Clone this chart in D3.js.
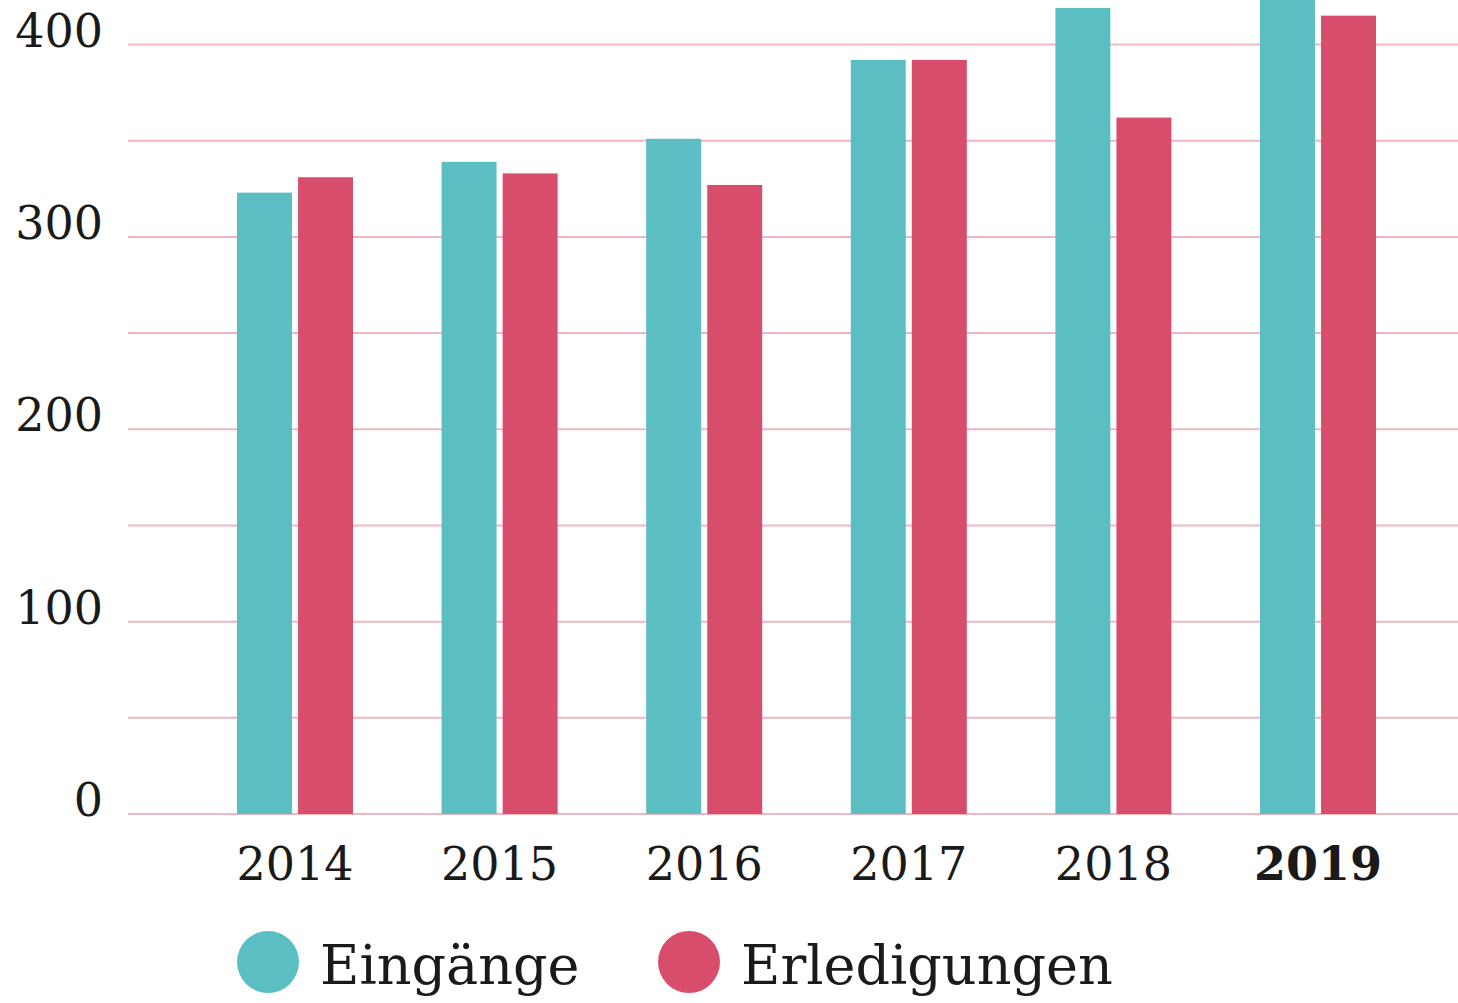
<!DOCTYPE html>
<html>
<head>
<meta charset="utf-8">
<script src="https://cdn.jsdelivr.net/npm/d3@7"></script>
<style>
body { margin: 0; background: #fff; }
svg { display: block; }
text { font-family: "DejaVu Serif", serif; fill: #1a1a1a; }
</style>
</head>
<body>
<script>
var years = ["2014", "2015", "2016", "2017", "2018", "2019"];
var series = ["Eingänge", "Erledigungen"];
var eingaenge = [323, 339, 351, 392, 419, 436];
var erledigungen = [331, 333, 327, 392, 362, 415];
var yTicks = [0, 100, 200, 300, 400];
var gridTicks = [0, 50, 100, 150, 200, 250, 300, 350, 400];
var colors = ["#5bbec2", "#d94d6c"];

var w = 1458;
var h = 1003;

var dataset = years.map(function(y, i){
	return {year: y, values: [eingaenge[i], erledigungen[i]]};
});

var svg = d3.select("body")
			.append("svg")
			.attr("width", w)
			.attr("height", h);

var xScale = d3.scaleBand()
				.domain(years)
				.range([192.7, 1420.3])
				.paddingInner(0.433)
				.paddingOuter(0.2165);

var xInner = d3.scaleBand()
				.domain(series)
				.range([0, xScale.bandwidth()])
				.paddingInner(0.1);

var yScale = d3.scaleLinear()
				.domain([0, 400])
				.range([814, 44.5]);

var colorScale = d3.scaleOrdinal()
				.domain(series)
				.range(colors);

// gridlines
svg.selectAll("line.grid")
	.data(gridTicks)
	.enter()
	.append("line")
	.attr("class", "grid")
	.attr("x1", 128)
	.attr("x2", w)
	.attr("y1", function(d){ return yScale(d); })
	.attr("y2", function(d){ return yScale(d); })
	.attr("stroke", "#f1b6bf")
	.attr("stroke-width", 2);

// y labels
svg.selectAll("text.ylab")
	.data(yTicks)
	.enter()
	.append("text")
	.attr("class", "ylab")
	.attr("x", 103)
	.attr("y", function(d){ return yScale(d) + 2; })
	.attr("text-anchor", "end")
	.attr("font-size", 46)
	.text(function(d){ return d; });

// bars
var groups = svg.selectAll("g.year")
	.data(dataset)
	.enter()
	.append("g")
	.attr("class", "year")
	.attr("transform", function(d){ return "translate(" + xScale(d.year) + ",0)"; });

groups.selectAll("rect")
	.data(function(d){
		return d.values.map(function(v, i){ return {key: series[i], value: v}; });
	})
	.enter()
	.append("rect")
	.attr("x", function(d){ return xInner(d.key); })
	.attr("y", function(d){ return yScale(d.value); })
	.attr("width", xInner.bandwidth())
	.attr("height", function(d){ return yScale(0) - yScale(d.value); })
	.attr("fill", function(d){ return colorScale(d.key); });

// x labels
svg.selectAll("text.xlab")
	.data(years)
	.enter()
	.append("text")
	.attr("class", "xlab")
	.attr("x", function(d){ return xScale(d) + xScale.bandwidth() / 2; })
	.attr("y", 880)
	.attr("text-anchor", "middle")
	.attr("font-size", 46)
	.attr("font-weight", function(d, i){ return i === years.length - 1 ? "bold" : "normal"; })
	.text(function(d){ return d; });

// legend
var legendX = [268, 689];
var legend = svg.selectAll("g.legend")
	.data(series)
	.enter()
	.append("g")
	.attr("class", "legend")
	.attr("transform", function(d, i){ return "translate(" + legendX[i] + ",962)"; });

legend.append("circle")
	.attr("r", 31)
	.attr("fill", function(d){ return colorScale(d); });

legend.append("text")
	.attr("x", 52)
	.attr("y", 22)
	.attr("font-size", 54)
	.text(function(d){ return d; });
</script>
</body>
</html>
